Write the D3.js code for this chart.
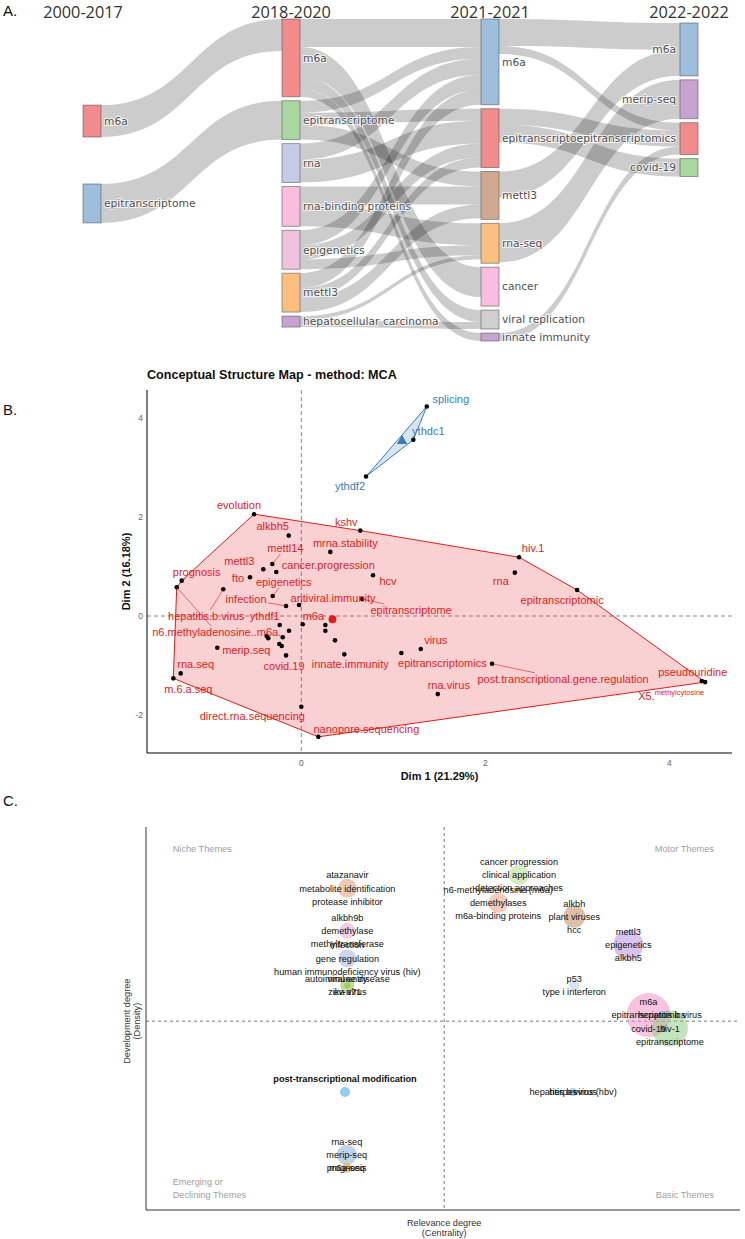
<!DOCTYPE html>
<html><head><meta charset="utf-8">
<script src="https://cdn.jsdelivr.net/npm/d3@7"></script>
<style>body{margin:0;background:#fff}</style>
</head><body>
<svg id="chart" width="745" height="1239"></svg>
<script>
// ================= DATA =================
// ---- Panel A: thematic evolution (sankey) ----
const periods = ["2000-2017","2018-2020","2021-2021","2022-2022"];
const nodeLabel = ["m6a","epitranscriptome",
  "m6a","epitranscriptome","rna","rna-binding proteins","epigenetics","mettl3","hepatocellular carcinoma",
  "m6a","epitranscriptome","mettl3","rna-seq","cancer","viral replication","innate immunity",
  "m6a","merip-seq","epitranscriptomics","covid-19"];
const nodePeriod = [0,0, 1,1,1,1,1,1,1, 2,2,2,2,2,2,2, 3,3,3,3];
const nodeValue  = [32,39, 78,39,39,40,39,39,11, 86,59,48,40,39,19,8, 53,39,32,18];
const flows = [ // [source, target, weight]
  [0,2,32],[1,3,39],
  [2,9,28],[2,13,30],[2,14,12],[2,15,8],
  [3,9,12],[3,10,12],[3,11,15],
  [4,9,16],[4,10,23],
  [5,11,18],[5,12,22],
  [6,9,15],[6,10,14],[6,12,10],
  [7,9,15],[7,10,10],[7,11,14],
  [8,14,7],[8,12,4],
  [9,16,27],[9,18,8],
  [10,18,16],[10,19,18],
  [11,16,26],
  [12,17,39],
  [15,18,8]
];

// ---- Panel B: MCA conceptual structure ----
const words = ["splicing","ythdc1","ythdf2",
  "evolution","alkbh5","kshv","mettl14","mrna.stability","mettl3","cancer.progression","prognosis",
  "n6.methyladenosine..m6a.","fto","hcv","hepatitis.b.virus","epigenetics","infection","antiviral.immunity",
  "epitranscriptome","ythdf1","m6a","","","","","","","","","","merip.seq","innate.immunity","covid.19",
  "epitranscriptomics","virus","rna.seq","m.6.a.seq","direct.rna.sequencing","nanopore.sequencing",
  "rna.virus","rna","epitranscriptomic","post.transcriptional.gene.regulation","pseudouridine",
  "X5.methylcytosine","hiv.1"];
const dim1 = [1.363,1.217,0.703,
  -0.514,-0.137,0.641,-0.315,0.315,-0.413,-0.272,-1.30,
  -1.354,-0.558,0.779,-0.848,-0.311,-0.166,-0.025,
  0.660,-0.235,0.261,-0.134,0.015,0.261,-0.376,-0.359,-0.202,0.366,-0.239,-0.213,-0.913,0.467,-0.166,
  1.087,1.298,-1.311,-1.391,0.0,0.185,
  1.483,2.320,2.997,2.073,4.352,
  4.388,2.366];
const dim2 = [4.237,3.563,2.82,
  2.059,1.626,1.727,1.053,1.296,0.945,0.891,0.715,
  0.581,0.783,0.824,0.540,0.405,0.202,0.223,
  0.344,-0.182,-0.182,-0.298,-0.168,-0.298,-0.405,-0.451,-0.431,-0.492,-0.567,-0.607,-0.642,-0.775,-0.796,
  -0.749,-0.668,-1.160,-1.261,-1.836,-2.443,
  -1.579,0.877,0.526,-0.966,-1.316,
  -1.336,1.188];
const clusterOf = words.map((w,i)=> i<3 ? 2 : 1);
const xTicksB = [0,2,4];
const yTicksB = [-2,0,2,4];

// ---- Panel C: thematic map ----
const themeWords = [
  ["atazanavir","metabolite identification","protease inhibitor"],
  ["alkbh9b","demethylase","methyltransferase"],
  ["infection","gene regulation","human immunodeficiency virus (hiv)"],
  ["autoimmune disease","zika virus"],
  ["viral entry","ev-a71"],
  ["cancer progression","clinical application","detection approaches"],
  ["n6-methyladenosine (m6a)","demethylases","m6a-binding proteins"],
  ["alkbh","plant viruses","hcc"],
  ["mettl3","epigenetics","alkbh5"],
  ["p53","type i interferon"],
  ["m6a","epitranscriptomics","covid-19"],
  ["hepatitis b virus","hiv-1","epitranscriptome"],
  ["post-transcriptional modification"],
  ["rna-seq","merip-seq","prognosis"],
  ["m6a-seq"],
  ["hepatitis b virus (hbv)"],
  ["herpesvirus"]
];
const centrality = [0.339,0.339,0.339,0.339,0.339,0.628,0.593,0.721,0.812,0.721,0.846,0.882,0.335,0.338,0.338,0.719,0.719];
const density    = [0.840,0.729,0.657,0.586,0.586,0.875,0.802,0.766,0.692,0.586,0.509,0.474,0.308,0.144,0.110,0.308,0.308];
const clusterFreq = [18.6,13.2,16.7,10.1,1.9,20.7,20.7,25,46.5,5.2,100,66.9,5.2,20.7,5.2,3.3,1.5];
const centralityMid = 0.502, densityMid = 0.493;

// ================= STYLE / LAYOUT =================
const nodeColors = ["#f28b8b","#9dbfdd",
  "#f28b8b","#a8d8a0","#c5cbe6","#f9bde0","#efc2e0","#fdbf7f","#c8a2d0",
  "#9dbfdd","#f28b8b","#d3a890","#fdbf7f","#f9bde0","#cfcfcf","#c8a2d0",
  "#9dbfdd","#c8a2d0","#f28b8b","#a8d8a0"];
const colLayout = [{center:164,pad:47},{top:19,pad:4},{top:19,pad:4},{top:23,pad:4}];
const bubbleColors = ["#d99569","#e999c9","#9badde","#81b931","#81b931","#a9d989","#f19771","#b98151",
  "#b189d9","#a9c9e9","#f189c1","#89c981","#299be1","#79a9d9","#f19121","#71a9d9","#71a9d9"];
const labelPosB = { // label-center offset from the point (px), third item = leader segment
  "splicing":[24,-7],"ythdc1":[15,-9],"ythdf2":[-16,10],
  "evolution":[-15,-9],"alkbh5":[-16,-9],"kshv":[-14,-8],"mettl14":[13,-16,1],"mrna.stability":[15,-9],
  "mettl3":[-24,-8],"cancer.progression":[52,-7],"prognosis":[15,-8,1],"n6.methyladenosine..m6a.":[40,45,1],
  "fto":[-12,1],"hcv":[15,6],"hepatitis.b.virus":[-17,27,1],"epigenetics":[11,-14,1],"infection":[-40,-7,1],
  "antiviral.immunity":[34,-7],"epitranscriptome":[49,11,1],"ythdf1":[-15,-9],"m6a":[-12,-9],
  "merip.seq":[29,2],"innate.immunity":[6,10],"covid.19":[-2,11],"epitranscriptomics":[41,10],"virus":[15,-9],
  "rna.seq":[15,-9],"m.6.a.seq":[15,11],"direct.rna.sequencing":[-49,9],"nanopore.sequencing":[48,-8],
  "rna.virus":[11,-9],"rna":[-14,9],"epitranscriptomic":[-15,10],"post.transcriptional.gene.regulation":[71,15,1],
  "pseudouridine":[-9,-9],"hiv.1":[14,-9]
};
const clusterColB = {1:"#E41A1C",2:"#377EB8"};
const SANS = "'Liberation Sans', Arial, sans-serif";

// ================= DRAW =================
const svg = d3.select("#chart");
svg.append("rect").attr("width",745).attr("height",1239).attr("fill","#fff");
const panelLab = (t,x,y)=>svg.append("text").attr("x",x).attr("y",y).text(t)
  .attr("font-family",SANS).attr("font-size",15).attr("fill","#111");
panelLab("A.",3,16); panelLab("B.",3,415); panelLab("C.",3,806);

// ---------- Panel A ----------
(function(){
  const gA = svg.append("g");
  const nodeW = 18, bottom = 341;
  const colX = d3.scalePoint().domain(d3.range(periods.length)).range([83,680]);
  const nodes = nodeLabel.map((l,i)=>({i,label:l,col:nodePeriod[i],value:nodeValue[i],color:nodeColors[i],out:[],inn:[]}));
  const cols = d3.groups(nodes,d=>d.col).sort((a,b)=>a[0]-b[0]).map(d=>d[1]);
  const ky = d3.min(cols,(c,k)=>(bottom - 19 - (c.length-1)*colLayout[k].pad)/d3.sum(c,d=>d.value));
  const hScale = d3.scaleLinear().domain([0,1]).range([0,ky]);
  cols.forEach((c,k)=>{
    const L = colLayout[k];
    const total = d3.sum(c,d=>hScale(d.value)) + (c.length-1)*L.pad;
    let y = L.top !== undefined ? L.top : L.center - total/2;
    c.forEach(n=>{ n.x0 = colX(k); n.x1 = n.x0+nodeW; n.y0 = y; n.y1 = y + hScale(n.value); y = n.y1 + L.pad; });
  });
  const links = flows.map(([s,t,v])=>({s:nodes[s],t:nodes[t],w:hScale(v)}));
  links.forEach(l=>{l.s.out.push(l); l.t.inn.push(l);});
  nodes.forEach(n=>{
    n.out.sort((a,b)=>a.t.y0-b.t.y0); let y=n.y0; n.out.forEach(l=>{l.sy=y; y+=l.w;});
    n.inn.sort((a,b)=>a.s.y0-b.s.y0); y=n.y0; n.inn.forEach(l=>{l.ty=y; y+=l.w;});
  });
  gA.selectAll("path.link").data(links).join("path")
    .attr("d",l=>{
      const x0=l.s.x1, x1=l.t.x0, xm=(x0+x1)/2;
      return `M${x0},${l.sy}C${xm},${l.sy} ${xm},${l.ty} ${x1},${l.ty}L${x1},${l.ty+l.w}C${xm},${l.ty+l.w} ${xm},${l.sy+l.w} ${x0},${l.sy+l.w}Z`;
    })
    .attr("fill","rgba(0,0,0,0.2)");
  gA.selectAll("rect.node").data(nodes).join("rect")
    .attr("x",d=>d.x0).attr("y",d=>d.y0).attr("width",nodeW).attr("height",d=>d.y1-d.y0)
    .attr("fill",d=>d.color).attr("stroke","rgba(80,80,80,0.55)").attr("stroke-width",1);
  gA.selectAll("text.nl").data(nodes).join("text")
    .attr("x",d=>d.col===3 ? d.x0-4 : d.x1+3)
    .attr("y",d=>(d.y0+d.y1)/2).attr("dy","0.35em")
    .attr("text-anchor",d=>d.col===3?"end":"start")
    .attr("font-family","'DejaVu Sans', Verdana, sans-serif").attr("font-size",10.7)
    .attr("fill","#505050").attr("stroke","#fff").attr("stroke-width",2).attr("stroke-opacity",0.8)
    .attr("paint-order","stroke").text(d=>d.label);
  gA.selectAll("text.hd").data(periods).join("text")
    .attr("x",(d,i)=>colX(i)+nodeW/2 - (i===0?9:0)).attr("y",17.5).attr("text-anchor","middle")
    .attr("font-family","'Open Sans', sans-serif").attr("font-size",16.3).attr("fill","#333").text(d=>d);
})();

// ---------- Panel B ----------
(function(){
  const g = svg.append("g");
  const L=147,R=732,T=390,B=753;
  const x = d3.scaleLinear().domain([-1.677,4.68]).range([L,R]);
  const y = d3.scaleLinear().domain([-2.77,4.57]).range([B,T]);
  g.append("text").attr("x",L).attr("y",379).text("Conceptual Structure Map - method: MCA")
    .attr("font-family",SANS).attr("font-weight","bold").attr("font-size",12.6).attr("fill","#111");
  // reference dashed lines
  g.append("line").attr("x1",x(0)).attr("x2",x(0)).attr("y1",T).attr("y2",B)
    .attr("stroke","#888").attr("stroke-dasharray","4,3");
  g.append("line").attr("x1",L).attr("x2",R).attr("y1",y(0)).attr("y2",y(0))
    .attr("stroke","#888").attr("stroke-dasharray","4,3");
  const pts = words.map((w,i)=>({w,px:x(dim1[i]),py:y(dim2[i]),c:clusterOf[i],v1:dim1[i],v2:dim2[i]}));
  const byC = d3.groups(pts,d=>d.c);
  byC.forEach(([c,arr])=>{
    const hull = d3.polygonHull(arr.map(d=>[d.px,d.py]));
    g.append("path").attr("d","M"+hull.join("L")+"Z")
      .attr("fill",clusterColB[c]).attr("fill-opacity",0.2)
      .attr("stroke",clusterColB[c]).attr("stroke-width",1);
  });
  g.selectAll("circle.pt").data(pts).join("circle")
    .attr("cx",d=>d.px).attr("cy",d=>d.py).attr("r",2.3).attr("fill","#000");
  // labels
  pts.forEach(d=>{
    if(!d.w) return;
    const col = clusterColB[d.c];
    if(d.w==="X5.methylcytosine"){
      const t = g.append("text").attr("x",d.px-67).attr("y",d.py+18)
        .attr("font-family",SANS).attr("fill",col);
      t.append("tspan").attr("font-size",11).text("X5.");
      t.append("tspan").attr("font-size",7.5).attr("dy",-5).text("methylcytosine");
      return;
    }
    const off = labelPosB[d.w] || [0,-9];
    const cx = d.px+off[0], cy = d.py+off[1];
    const t = g.append("text").attr("x",cx).attr("y",cy).attr("dy","0.35em").attr("text-anchor","middle")
      .attr("font-family",SANS).attr("font-size",11).attr("fill",col).text(d.w);
    if(off[2]){
      const bb = t.node().getBBox();
      const w = bb.width/2+1, h = bb.height/2;
      const dx = d.px-cx, dy = d.py-cy;
      const s = Math.min(dx? w/Math.abs(dx):1e9, dy? h/Math.abs(dy):1e9);
      if(s<1){
        g.append("line").attr("x1",cx+dx*s).attr("y1",cy+dy*s).attr("x2",d.px).attr("y2",d.py)
          .attr("stroke",col).attr("stroke-width",0.6);
      }
    }
  });
  // centroids
  byC.forEach(([c,arr])=>{
    const mx = x(d3.mean(arr,d=>d.v1)), my = y(d3.mean(arr,d=>d.v2));
    if(c===1){
      g.append("circle").attr("cx",mx).attr("cy",my).attr("r",3.9).attr("fill",clusterColB[c]);
    } else {
      g.append("path").attr("d",d3.symbol(d3.symbolTriangle,46)()).attr("transform",`translate(${mx},${my})`)
        .attr("fill",clusterColB[c]);
    }
  });
  // axes
  g.append("line").attr("x1",L).attr("x2",L).attr("y1",T).attr("y2",B).attr("stroke","#000").attr("stroke-width",1);
  g.append("line").attr("x1",L).attr("x2",R).attr("y1",B).attr("y2",B).attr("stroke","#000").attr("stroke-width",1);
  g.selectAll("text.xt").data(xTicksB).join("text").attr("x",d=>x(d)).attr("y",B+13).attr("text-anchor","middle")
    .attr("font-family",SANS).attr("font-size",8.5).attr("fill","#666").text(d=>d);
  g.selectAll("text.yt").data(yTicksB).join("text").attr("x",L-4).attr("y",d=>y(d)).attr("dy","0.35em")
    .attr("text-anchor","end").attr("font-family",SANS).attr("font-size",8.5).attr("fill","#666").text(d=>d);
  g.append("text").attr("x",(L+R)/2).attr("y",780).attr("text-anchor","middle").text("Dim 1 (21.29%)")
    .attr("font-family",SANS).attr("font-weight","bold").attr("font-size",11).attr("fill","#111");
  g.append("text").attr("transform",`translate(130,${(T+B)/2}) rotate(-90)`).attr("text-anchor","middle")
    .text("Dim 2 (16.18%)").attr("font-family",SANS).attr("font-weight","bold").attr("font-size",11).attr("fill","#111");
})();

// ---------- Panel C ----------
(function(){
  const g = svg.append("g");
  const L=146,R=740,T=827,B=1210;
  const x = d3.scaleLinear().domain([0,1]).range([L,R]);
  const y = d3.scaleLinear().domain([0,1]).range([B,T]);
  const r = d3.scaleSqrt().domain([0,100]).range([0,22]);
  g.append("line").attr("x1",x(centralityMid)).attr("x2",x(centralityMid)).attr("y1",T).attr("y2",B)
    .attr("stroke","#555").attr("stroke-width",0.8).attr("stroke-dasharray","3,3");
  g.append("line").attr("x1",L).attr("x2",R).attr("y1",y(densityMid)).attr("y2",y(densityMid))
    .attr("stroke","#555").attr("stroke-width",0.8).attr("stroke-dasharray","3,3");
  const cl = themeWords.map((w,i)=>({w,cx:x(centrality[i]),cy:y(density[i]),r:r(clusterFreq[i]),col:bubbleColors[i],i}));
  g.selectAll("circle.b").data(cl).join("circle").attr("cx",d=>d.cx).attr("cy",d=>d.cy).attr("r",d=>d.r)
    .attr("fill",d=>d.col).attr("fill-opacity",0.5);
  cl.forEach(d=>{
    const special = d.w[0]==="post-transcriptional modification";
    const n = d.w.length;
    d.w.forEach((t,k)=>{
      g.append("text").attr("x",d.cx).attr("y",d.cy + (k-(n-1)/2)*13.3 + (special?-13:0)).attr("dy","0.35em")
        .attr("text-anchor","middle").attr("font-family",SANS).attr("font-size",9.2)
        .attr("font-weight",special?"bold":"normal").attr("fill","#111").text(t);
    });
  });
  g.append("line").attr("x1",L).attr("x2",L).attr("y1",T).attr("y2",B).attr("stroke","#333");
  g.append("line").attr("x1",L).attr("x2",R).attr("y1",B).attr("y2",B).attr("stroke","#333");
  const q = (t,xx,yy,anchor)=>g.append("text").attr("x",xx).attr("y",yy).attr("text-anchor",anchor)
    .attr("font-family",SANS).attr("font-size",9.2).attr("fill","#a0a0a0").text(t);
  q("Niche Themes",x(0.045),852,"start");
  q("Motor Themes",x(0.956),852,"end");
  q("Emerging or",x(0.045),1185,"start");
  q("Declining Themes",x(0.045),1198,"start");
  q("Basic Themes",x(0.956),1198,"end");
  const ax = (t,xx,yy)=>g.append("text").attr("x",xx).attr("y",yy).attr("text-anchor","middle")
    .attr("font-family",SANS).attr("font-size",9.2).attr("fill","#333").text(t);
  ax("Relevance degree",x(centralityMid),1226);
  ax("(Centrality)",x(centralityMid),1236);
  const gy = g.append("g").attr("transform",`translate(0,${y(densityMid)}) rotate(-90)`);
  gy.append("text").attr("x",0).attr("y",130).attr("text-anchor","middle").attr("font-family",SANS)
    .attr("font-size",9.2).attr("fill","#333").text("Development degree");
  gy.append("text").attr("x",0).attr("y",140).attr("text-anchor","middle").attr("font-family",SANS)
    .attr("font-size",9.2).attr("fill","#333").text("(Density)");
})();
</script>
</body></html>
